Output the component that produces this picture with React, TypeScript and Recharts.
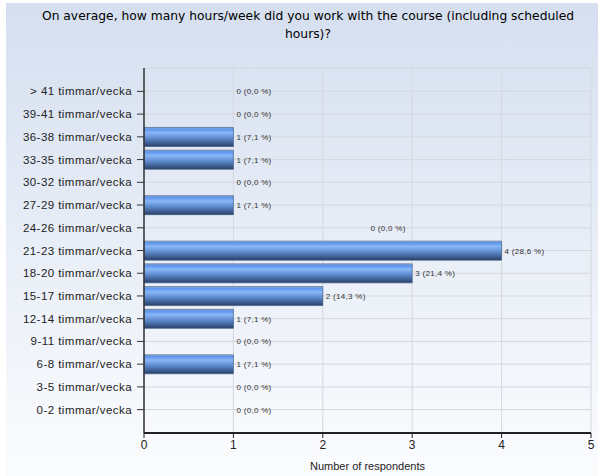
import { BarChart, Bar, XAxis, YAxis, CartesianGrid } from 'recharts';

const categories = [
  '> 41 timmar/vecka',
  '39-41 timmar/vecka',
  '36-38 timmar/vecka',
  '33-35 timmar/vecka',
  '30-32 timmar/vecka',
  '27-29 timmar/vecka',
  '24-26 timmar/vecka',
  '21-23 timmar/vecka',
  '18-20 timmar/vecka',
  '15-17 timmar/vecka',
  '12-14 timmar/vecka',
  '9-11 timmar/vecka',
  '6-8 timmar/vecka',
  '3-5 timmar/vecka',
  '0-2 timmar/vecka',
];
const respondents = [0, 0, 1, 1, 0, 1, 0, 4, 3, 2, 1, 0, 1, 0, 0];
const percents = ['0,0', '0,0', '7,1', '7,1', '0,0', '7,1', '0,0', '28,6', '21,4', '14,3', '7,1', '0,0', '7,1', '0,0', '0,0'];
const xTicks = [0, 1, 2, 3, 4, 5];

const data = categories.map((name, i) => ({ name, value: respondents[i], pct: percents[i] }));

const W = 598;
const H = 476;
const LEFT = 144;
const RIGHT = 7;
const TOP = 68;
const unit = (W - LEFT - RIGHT) / xTicks[xTicks.length - 1];
const FONT = "'Liberation Sans', Arial, sans-serif";

// the original tool drew this one zero-label way off to the right
const strayLabel = '24-26 timmar/vecka';

// category text plus the value label of that row (zero bars get no label from Bar itself)
const CategoryTick = (props: any) => {
  const { x, y, payload } = props;
  const row = data.find((d) => d.name === payload.value);
  let lx = LEFT + Math.max(row ? row.value : 0, 1) * unit + 3;
  if (row && row.name === strayLabel) lx = LEFT + unit * 2.5 + 3;
  return (
    <g>
      <text x={x - 3} y={y} dy={4} textAnchor="end" fontSize={11.5} letterSpacing={0.45} fill="#222" fontFamily={FONT}>
        {payload.value}
      </text>
      {row && (
        <text x={lx} y={y} dy={3} fontSize={8} letterSpacing={0.3} fill="#333" fontFamily={FONT}>
          {`${row.value} (${row.pct} %)`}
        </text>
      )}
    </g>
  );
};

export default function App() {
  return (
    <div
      style={{
        position: 'absolute',
        left: 0,
        top: 0,
        width: W,
        height: H,
        background: '#fff',
      }}
    >
      <div
        style={{
          position: 'absolute',
          left: 6,
          top: 3,
          right: 0,
          bottom: 0,
          background: 'linear-gradient(to bottom, #d5dff0 0%, #e6ecf6 45%, #fbfcfe 100%)',
        }}
      />
      <div
        style={{
          position: 'absolute',
          left: 18,
          right: 0,
          top: 7,
          textAlign: 'center',
          fontFamily: "'DejaVu Sans', sans-serif",
          fontSize: 12.3,
          lineHeight: '18px',
          color: '#000',
        }}
      >
        On average, how many hours/week did you work with the course (including scheduled
        <br />
        hours)?
      </div>
      <div style={{ position: 'absolute', left: 0, top: 0 }}>
        <BarChart
          width={W}
          height={H}
          data={data}
          layout="vertical"
          margin={{ top: TOP, right: RIGHT, left: 0, bottom: 0 }}
          barSize={19}
        >
          <defs>
            <linearGradient id="barFill" x1="0" y1="0" x2="0" y2="1">
              <stop offset="0%" stopColor="#a9bcd8" />
              <stop offset="8%" stopColor="#5b93ec" />
              <stop offset="28%" stopColor="#89b7f8" />
              <stop offset="60%" stopColor="#5a86c8" />
              <stop offset="100%" stopColor="#283f66" />
            </linearGradient>
          </defs>
          <CartesianGrid stroke="#d4d8de" strokeWidth={1} />
          <XAxis
            type="number"
            domain={[0, 5]}
            ticks={xTicks}
            interval={0}
            height={43}
            axisLine={{ stroke: '#222', strokeWidth: 2 }}
            tickLine={{ stroke: '#222' }}
            tickSize={5}
            tick={{ fill: '#222', fontSize: 12, fontFamily: FONT }}
            label={{
              value: 'Number of respondents',
              position: 'insideBottom',
              offset: 6,
              fill: '#222',
              fontSize: 11,
              fontFamily: FONT,
            }}
          />
          <XAxis
            xAxisId="top"
            orientation="top"
            type="number"
            domain={[0, 5]}
            height={0}
            tick={false}
            tickLine={false}
            axisLine={{ stroke: '#d4d8de' }}
          />
          <YAxis
            type="category"
            dataKey="name"
            width={LEFT}
            interval={0}
            padding={{ top: 12, bottom: 12 }}
            axisLine={{ stroke: '#333', strokeWidth: 1.5 }}
            tickLine={{ stroke: '#333' }}
            tickSize={7}
            tick={<CategoryTick />}
          />
          <Bar dataKey="value" fill="url(#barFill)" stroke="#34527e" strokeWidth={0.6} isAnimationActive={false} />
        </BarChart>
      </div>
    </div>
  );
}
